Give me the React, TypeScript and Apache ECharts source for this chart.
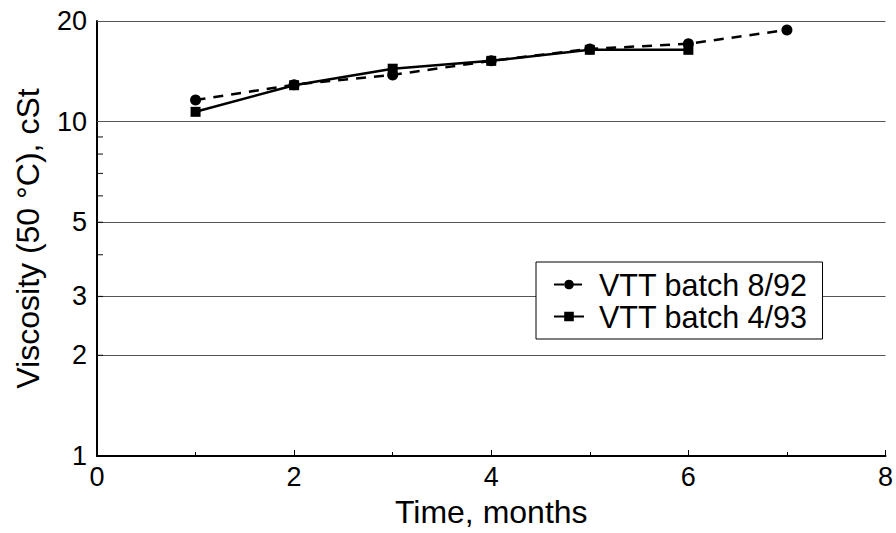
import React, { useEffect, useRef } from "react";
import * as echarts from "echarts";

// Data
const monthsA = [1, 2, 3, 4, 5, 6, 7];
const batch892 = [11.6, 12.9, 13.8, 15.2, 16.5, 17.1, 18.8];
const monthsB = [1, 2, 3, 4, 5, 6];
const batch493 = [10.7, 12.85, 14.4, 15.2, 16.4, 16.4];

const seriesNames = ["VTT batch 8/92", "VTT batch 4/93"];
const yTickLabels = [1, 2, 3, 5, 10, 20];
const yMinorTicks = [2, 3, 4, 5, 6, 7, 8, 9];
const xTickLabels = [0, 2, 4, 6, 8];

const FONT = "'Liberation Sans', Arial, sans-serif";

export default function App() {
  const ref = useRef<HTMLDivElement>(null);

  useEffect(() => {
    if (!ref.current) return;
    const chart = echarts.init(ref.current, undefined, { renderer: "svg" });

    const pairs = (xs: number[], ys: number[]) => xs.map((x, i) => [x, ys[i]]);

    const option: any = {
      animation: false,
      backgroundColor: "#fff",
      textStyle: { fontFamily: FONT },
      grid: { left: 97, right: 9, top: 21, bottom: 77, containLabel: false },
      legend: {
        data: seriesNames,
        orient: "vertical",
        left: 536,
        top: 262,
        padding: [7, 15, 7, 17],
        itemGap: 1,
        itemWidth: 30,
        itemHeight: 12,
        backgroundColor: "#fff",
        borderColor: "#000",
        borderWidth: 1,
        textStyle: {
          fontFamily: FONT,
          fontSize: 30.5,
          color: "#000",
          padding: [0, 0, 0, 10],
        },
      },
      xAxis: {
        type: "value",
        min: xTickLabels[0],
        max: xTickLabels[xTickLabels.length - 1],
        interval: 2,
        name: "Time, months",
        nameLocation: "middle",
        nameGap: 40,
        nameTextStyle: { fontFamily: FONT, fontSize: 32, color: "#000" },
        axisLine: { show: true, onZero: false, lineStyle: { color: "#000", width: 2 } },
        axisTick: { show: true, inside: true, length: 6, lineStyle: { color: "#000", width: 1 } },
        minorTick: { show: true, splitNumber: 2, length: 4, lineStyle: { color: "#000", width: 1 } },
        axisLabel: { fontFamily: FONT, fontSize: 27, color: "#000", margin: 7 },
        splitLine: { show: false },
      },
      yAxis: {
        type: "log",
        logBase: 10,
        min: 1,
        max: 20,
        name: "Viscosity (50 °C), cSt",
        nameLocation: "middle",
        nameRotate: 90,
        nameGap: 53,
        nameTextStyle: { fontFamily: FONT, fontSize: 32, color: "#000" },
        axisLine: { show: true, onZero: false, lineStyle: { color: "#000", width: 2 } },
        axisTick: { show: false },
        axisLabel: { show: false },
        splitLine: { show: false },
      },
      series: [
        {
          name: seriesNames[1],
          type: "line",
          data: pairs(monthsB, batch493),
          symbol: "rect",
          symbolSize: 10,
          z: 3,
          itemStyle: { color: "#000" },
          lineStyle: { color: "#000", width: 2.5, type: "solid" },
          markLine: {
            silent: true,
            symbol: "none",
            z: 1,
            lineStyle: { color: "#555", width: 1.2, type: "solid" },
            label: {
              show: true,
              position: "start",
              distance: 10,
              fontFamily: FONT,
              fontSize: 27,
              color: "#000",
              formatter: (p: any) => String(p.value),
            },
            emphasis: { disabled: true },
            data: yTickLabels.map((v) =>
              v === 1
                ? { yAxis: v, lineStyle: { color: "rgba(0,0,0,0)", width: 0.01 } }
                : { yAxis: v }
            ),
          },
        },
        {
          name: seriesNames[0],
          type: "line",
          data: pairs(monthsA, batch892),
          symbol: "circle",
          symbolSize: 11,
          z: 4,
          itemStyle: { color: "#000" },
          lineStyle: { color: "#000", width: 2.5, type: [10, 8] },
        },
        {
          name: "yMinorTicks",
          type: "scatter",
          silent: true,
          clip: false,
          data: yMinorTicks.map((v) => [0, v]),
          symbol: "rect",
          symbolSize: [6, 1.2],
          symbolOffset: [3, 0],
          itemStyle: { color: "#000" },
          z: 5,
        },
      ],
    };

    chart.setOption(option);
    return () => chart.dispose();
  }, []);

  return (
    <div
      ref={ref}
      style={{ position: "fixed", left: 0, top: 0, width: 896, height: 533, background: "#fff" }}
    />
  );
}
